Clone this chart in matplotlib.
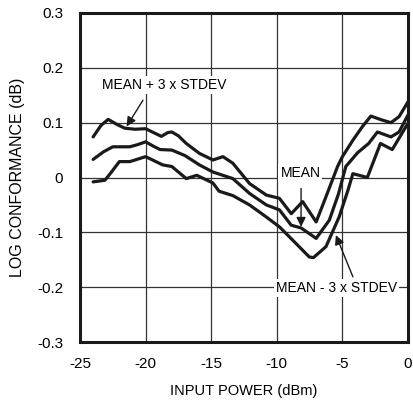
import matplotlib
matplotlib.use('Agg')
import matplotlib.pyplot as plt

matplotlib.rc('font', family='Liberation Sans', size=11)
matplotlib.rcParams['axes.unicode_minus'] = False

# MEAN + 3 x STDEV
x_hi = [-24.0, -23.4, -22.85, -22.2, -21.6, -20.8, -20.0, -19.4, -18.8, -18.3, -18.0, -17.5,
        -16.9, -15.9, -14.87, -14.1, -13.35, -12.08, -10.8, -9.8, -8.9, -8.03, -7.0, -6.25,
        -5.37, -5.0, -4.2, -3.47, -2.83, -2.0, -1.3, -0.68, 0.0]
y_hi = [0.074, 0.095, 0.106, 0.097, 0.090, 0.088, 0.089, 0.082, 0.075, 0.082, 0.083, 0.076,
        0.062, 0.044, 0.032, 0.038, 0.026, -0.011, -0.032, -0.038, -0.066, -0.044, -0.081, -0.035,
        0.020, 0.038, 0.068, 0.093, 0.112, 0.105, 0.100, 0.111, 0.138]

# MEAN
x_mid = [-24.0, -23.2, -22.5, -21.2, -20.6, -20.0, -19.4, -18.9, -18.0, -17.0, -15.9, -14.87,
         -13.35, -12.08, -10.8, -9.8, -8.9, -8.15, -7.0, -6.0, -5.3, -4.74, -3.85, -3.0,
         -2.33, -1.3, -0.68, 0.0]
y_mid = [0.033, 0.047, 0.056, 0.056, 0.060, 0.065, 0.057, 0.051, 0.050, 0.040, 0.023, 0.010,
         -0.002, -0.029, -0.050, -0.059, -0.087, -0.092, -0.111, -0.078, -0.030, 0.020, 0.045, 0.062,
         0.083, 0.074, 0.083, 0.114]

# MEAN - 3 x STDEV
x_lo = [-24.0, -23.1, -22.6, -22.0, -21.2, -20.0, -19.3, -18.7, -18.0, -16.9, -16.1, -14.87,
        -14.4, -13.35, -12.08, -10.8, -9.8, -8.8, -7.52, -7.2, -6.25, -5.25, -4.6, -4.2,
        -3.1, -2.1, -1.2, 0.0]
y_lo = [-0.008, -0.005, 0.010, 0.029, 0.029, 0.038, 0.030, 0.023, 0.020, -0.002, 0.004, -0.010,
        -0.025, -0.033, -0.050, -0.072, -0.090, -0.114, -0.145, -0.146, -0.126, -0.072, -0.025, 0.007,
        0.000, 0.062, 0.051, 0.099]

fig = plt.figure(figsize=(4.13, 4.03), dpi=100)
ax = fig.add_axes([80/413, 1-342/403, 328/413, 329/403])

for xs, ys in [(x_hi, y_hi), (x_mid, y_mid), (x_lo, y_lo)]:
    ax.plot(xs, ys, color='#1a1a1a', lw=2.3, solid_joinstyle='round', solid_capstyle='round', zorder=3)

ax.set_xlim(-25, 0)
ax.set_ylim(-0.3, 0.3)
ax.set_xticks([-25, -20, -15, -10, -5, 0])
ax.set_yticks([-0.3, -0.2, -0.1, 0, 0.1, 0.2, 0.3])
ax.set_yticklabels(['-0.3', '-0.2', '-0.1', '0', '0.1', '0.2', '0.3'])
ax.grid(True, color='#333333', lw=0.9)
ax.tick_params(axis='x', length=0, pad=11, labelsize=11)
ax.tick_params(axis='y', length=0, pad=12, labelsize=11)
for s in ax.spines.values():
    s.set_linewidth(2.2)
    s.set_color('#1a1a1a')

ax.set_xlabel('INPUT POWER (dBm)', fontsize=10.5, labelpad=9)
ax.set_ylabel('LOG CONFORMANCE (dB)', fontsize=11.5, labelpad=9)

box = dict(facecolor='white', edgecolor='none', pad=1.5)
arrow = dict(arrowstyle='-|>', color='#1a1a1a', lw=1.0, mutation_scale=14, shrinkA=0, shrinkB=0)

ax.text(-18.6, 0.169, 'MEAN + 3 x STDEV', ha='center', va='center', fontsize=10, bbox=box, zorder=5)
ax.annotate('', xy=(-21.45, 0.093), xytext=(-20.2, 0.141), arrowprops=arrow, zorder=6)

ax.text(-8.2, 0.008, 'MEAN', ha='center', va='center', fontsize=10, bbox=box, zorder=5)
ax.annotate('', xy=(-8.15, -0.09), xytext=(-8.15, -0.02), arrowprops=arrow, zorder=6)

ax.text(-5.43, -0.202, 'MEAN - 3 x STDEV', ha='center', va='center', fontsize=10, bbox=box, zorder=5)
ax.annotate('', xy=(-5.5, -0.105), xytext=(-4.2, -0.181), arrowprops=arrow, zorder=6)

plt.savefig('out.png', dpi=100)
plt.close()
